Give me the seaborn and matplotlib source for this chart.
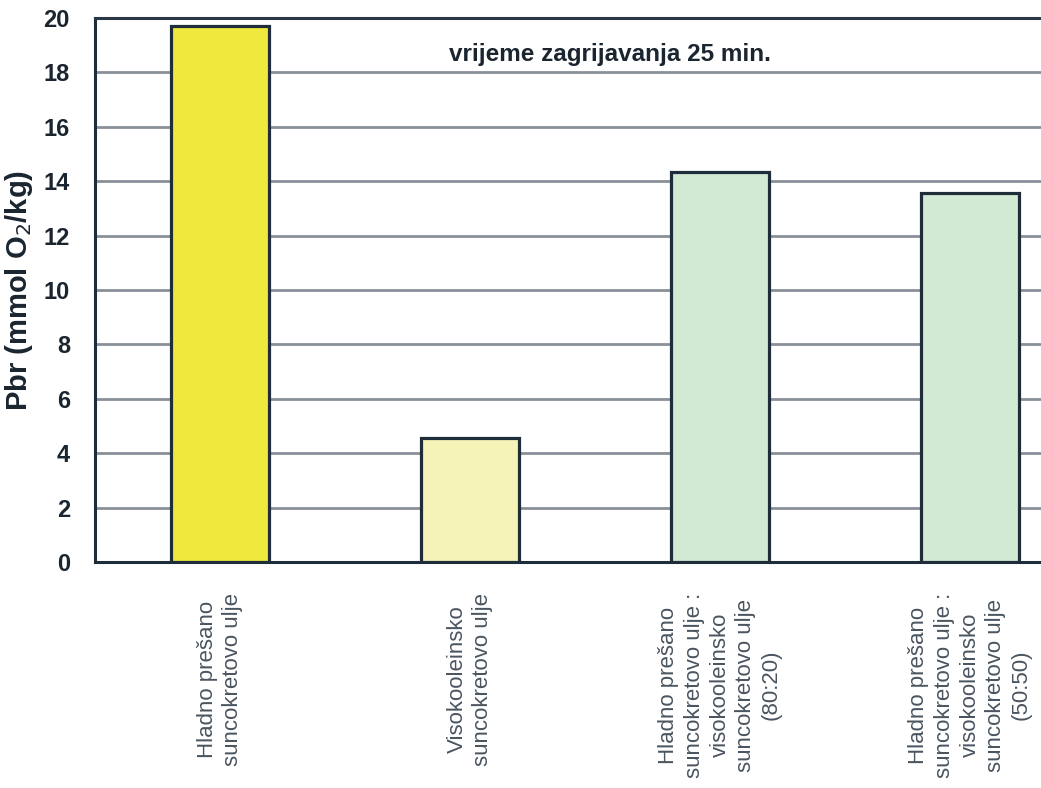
import pandas as pd
import seaborn as sns
import matplotlib.pyplot as plt

# data
categories = [
    "Hladno prešano\nsuncokretovo ulje",
    "Visokooleinsko\nsuncokretovo ulje",
    "Hladno prešano\nsuncokretovo ulje :\nvisokooleinsko\nsuncokretovo ulje\n(80:20)",
    "Hladno prešano\nsuncokretovo ulje :\nvisokooleinsko\nsuncokretovo ulje\n(50:50)",
]
pbr_values = [19.7, 4.55, 14.32, 13.57]
bar_colors = ["#eee93c", "#f5f3b8", "#d2e9d3", "#d2e9d3"]

df = pd.DataFrame({"Ulje": categories, "Pbr": pbr_values})

sns.set_style("white")
plt.rcParams["font.family"] = ["Liberation Sans", "DejaVu Sans"]

fig = plt.figure(figsize=(10.41, 7.88), dpi=100)
# axes runs past the right edge, like the cropped original
ax = fig.add_axes([95 / 1041, 226 / 788, 1000 / 1041, 544 / 788])

sns.barplot(data=df, x="Ulje", y="Pbr", hue="Ulje", palette=bar_colors,
            saturation=1, legend=False, width=0.39, edgecolor="#1f2d3a",
            linewidth=2.3, ax=ax, zorder=3)

ax.set_xlim(-0.5, 3.5)
ax.set_ylim(0, 20)
ax.set_yticks(range(0, 21, 2))
ax.yaxis.grid(True, color="#8a9099", linewidth=2.0, zorder=0)
ax.set_axisbelow(True)

for side in ["left", "bottom"]:
    ax.spines[side].set_color("#1f2d3a")
    ax.spines[side].set_linewidth(2.2)
ax.spines["top"].set_color("#2a3744")
ax.spines["top"].set_linewidth(2.2)
ax.spines["right"].set_visible(False)

ax.set_xticks(range(len(categories)))
ax.set_xticklabels(categories, rotation=90, va="top", ha="center",
                   fontsize=16, color="#4a5560", linespacing=1.3)
ax.set_xticks([0.5, 1.5, 2.5], minor=True)
ax.tick_params(axis="x", which="major", length=0, pad=22)
ax.tick_params(axis="x", which="minor", direction="out", length=8,
               width=2, color="#1f2d3a")
ax.tick_params(axis="y", direction="out", length=8, width=2,
               color="#1f2d3a", labelsize=17, labelcolor="#1a2530", pad=10)
for lbl in ax.get_yticklabels():
    lbl.set_fontweight("bold")

ax.set_xlabel("")
ax.set_ylabel("Pbr (mmol O$_2$/kg)", fontsize=21, fontweight="bold",
              color="#1a2530", labelpad=6)

ax.text(1.56, 18.65, "vrijeme zagrijavanja 25 min.", ha="center",
        va="center", fontsize=17.5, fontweight="bold", color="#1a2530")

plt.savefig("out.png", dpi=100)
